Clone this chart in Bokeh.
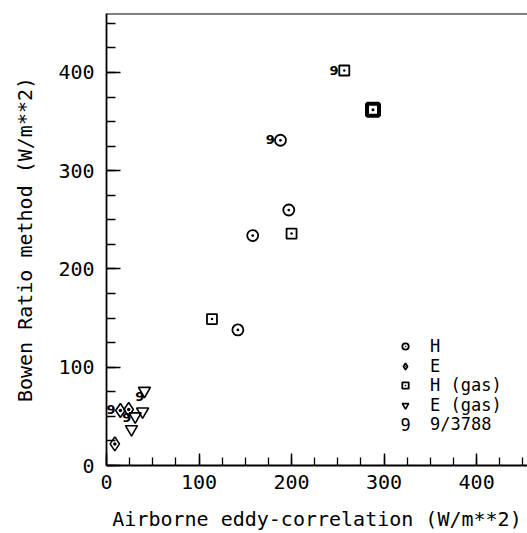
from bokeh.plotting import figure
from bokeh.models import Legend, LegendItem, Span, Range1d, SingleIntervalTicker, Label
from bokeh.core.properties import value
from bokeh.embed import file_html
from bokeh.resources import INLINE

# ---- data ----
h_x = [188, 197, 158, 142]
h_y = [331, 260, 234, 138]

e_x = [15, 24, 9]
e_y = [56, 57, 22]

hgas_x = [257, 200, 114]
hgas_y = [402, 236, 149]

hgas_bold_x = [288]
hgas_bold_y = [362]

egas_x = [31, 39, 27, 41]
egas_y = [50, 55, 37, 76]

d9_x = [177, 246, 5, 22, 36]
d9_y = [332, 402, 57, 49, 70]
d9_txt = ["9"] * len(d9_x)

legend_labels = ["H", "E", "H (gas)", "E (gas)", "9/3788"]

FONT = "DejaVu Sans Mono"

p = figure(width=527, height=533,
           x_range=Range1d(0, 455), y_range=Range1d(0, 460),
           output_backend="svg", toolbar_location=None,
           min_border_left=106, min_border_right=0,
           min_border_top=13, min_border_bottom=67)

p.grid.visible = False
p.outline_line_color = None
p.background_fill_color = "white"
p.border_fill_color = "white"

p.xaxis.ticker = SingleIntervalTicker(interval=100, num_minor_ticks=4)
p.yaxis.ticker = SingleIntervalTicker(interval=100, num_minor_ticks=4)

for ax in (p.xaxis[0], p.yaxis[0]):
    ax.axis_line_color = "black"
    ax.axis_line_width = 1.8
    ax.major_tick_line_color = "black"
    ax.minor_tick_line_color = "black"
    ax.major_tick_line_width = 1.5
    ax.minor_tick_line_width = 1.3
    ax.major_tick_out = 0
    ax.minor_tick_out = 0
    ax.major_label_text_font = FONT
    ax.major_label_text_font_size = "20px"
    ax.major_label_text_color = "black"
    ax.axis_label_text_font = FONT
    ax.axis_label_text_font_size = "20px"
    ax.axis_label_text_font_style = "normal"
    ax.axis_label_text_color = "black"

p.xaxis.major_tick_in = 12
p.xaxis.minor_tick_in = 8
p.yaxis.major_tick_in = 14
p.yaxis.minor_tick_in = 9
p.xaxis.major_label_standoff = 9
p.yaxis.major_label_standoff = 12
p.xaxis.axis_label = "Airborne eddy-correlation (W/m**2)"
p.yaxis.axis_label = "Bowen Ratio method (W/m**2)"
p.xaxis.axis_label_standoff = 15
p.yaxis.axis_label_standoff = 18

p.add_layout(Span(location=460, dimension="width", line_color="black", line_width=2))

r_h = p.scatter(h_x, h_y, marker="circle_dot", size=11, fill_color=None,
                line_color="black", line_width=1.8)
r_e = p.scatter(e_x, e_y, marker="diamond_dot", size=14, fill_color=None,
                line_color="black", line_width=1.6)
r_hg = p.scatter(hgas_x, hgas_y, marker="square_dot", size=10, fill_color=None,
                 line_color="black", line_width=1.8)
p.scatter(hgas_bold_x, hgas_bold_y, marker="square_dot", size=12, fill_color=None,
          line_color="black", line_width=4)
r_eg = p.scatter(egas_x, egas_y, marker="inverted_triangle", size=12, fill_color=None,
                 line_color="black", line_width=1.6)
r_9 = p.text(d9_x, d9_y, text=d9_txt, text_font=value("DejaVu Sans"),
             text_font_style="bold", text_font_size="13px",
             text_align="center", text_baseline="middle", text_color="black")

# legend: one row per entry, rows 19.5 px apart (screen px above the frame bottom)
LEG_X, GW = 291, 16
row_centers = [119, 99.5, 80, 60.5, 41]
renderers = [r_h, r_e, r_hg, r_eg, r_9]
for lab, rend, cy in zip(legend_labels, renderers, row_centers):
    lg = Legend(items=[LegendItem(label=lab, renderers=[rend])], location=(LEG_X, cy - 10))
    lg.background_fill_alpha = 0
    lg.border_line_color = None
    lg.label_text_font = FONT
    lg.label_text_font_size = "17px"
    lg.label_text_color = "black"
    lg.label_height = 16
    lg.glyph_height = 16
    lg.glyph_width = GW
    lg.spacing = 0
    lg.padding = 0
    lg.margin = 0
    lg.label_standoff = 17
    p.add_layout(lg)

# swatch of the "9/3788" row (a text glyph draws no legend swatch)
p.add_layout(Label(x=LEG_X + GW / 2, y=row_centers[-1], x_units="screen", y_units="screen",
                   text="9", text_font=FONT, text_font_size="17px",
                   text_align="center", text_baseline="middle", text_color="black"))

open("out.html", "w").write(file_html(p, INLINE))
